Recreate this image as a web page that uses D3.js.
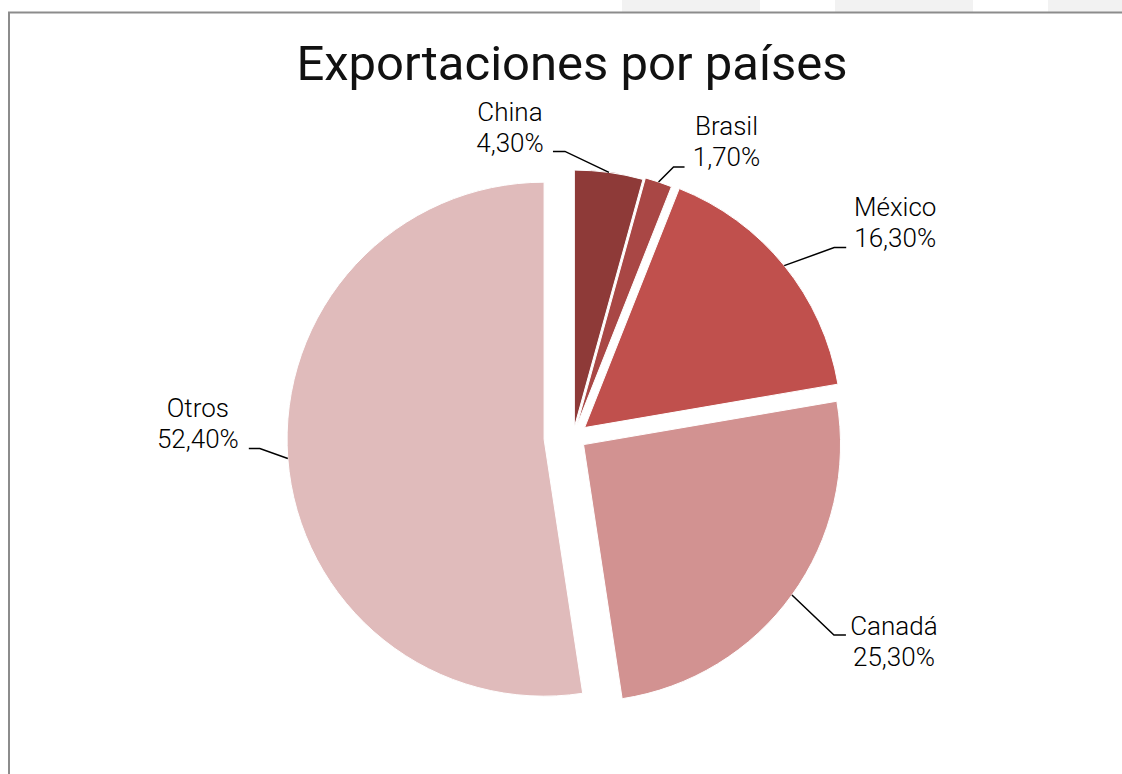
<!DOCTYPE html>
<html>
<head>
<meta charset="utf-8">
<script src="https://cdn.jsdelivr.net/npm/d3@7"></script>
<style>
  html, body { margin: 0; padding: 0; background: #fff; }
  svg { display: block; }
  text { font-family: Roboto, "Liberation Sans", sans-serif; fill: #111; }
  .title { font-weight: 400; }
  .slice-label { font-weight: 300; fill: #000; }
</style>
</head>
<body>
<svg id="chart" width="1122" height="774"></svg>
<script>
// Export share by destination country (percent)
const countries = ["China", "Brasil", "México", "Canadá", "Otros"];
const shares = [4.3, 1.7, 16.3, 25.3, 52.4];
const shareLabels = ["4,30%", "1,70%", "16,30%", "25,30%", "52,40%"];
const sliceColors = ["#8e3a38", "#a94745", "#c0504d", "#d29291", "#e0bbbb"];

// Per-slice explode distance (px)
const explode = [10, 12, 15, 13, 29];
// Label layout, relative to the leader start on the slice rim:
// elbow, end of the horizontal leg, and label centre / first baseline
const labelLayout = [
  { elbow: [-44, -21], end: [-56, -21], text: [-99, -51] },
  { elbow: [15, -15],  end: [26, -15],  text: [68, -47] },
  { elbow: [50, -18],  end: [62, -18],  text: [111, -50] },
  { elbow: [42, 40],   end: [54, 40],   text: [102, 40] },
  { elbow: [-28, -10], end: [-39, -10], text: [-90, -42] }
];

const svg = d3.select("#chart");
const W = 1122, H = 774;

// Tabs strip along the top edge
[[622, 138], [835, 138], [1048, 74]].forEach(([x, w]) => {
  svg.append("rect").attr("x", x).attr("y", 0).attr("width", w).attr("height", 12).attr("fill", "#f2f2f2");
});
// Sheet frame
svg.append("path")
  .attr("d", `M9,${H} L9,12.5 L${W},12.5`)
  .attr("fill", "none").attr("stroke", "#8c8c8c").attr("stroke-width", 2);

// Title
svg.append("text")
  .attr("class", "title")
  .attr("x", 572).attr("y", 80)
  .attr("text-anchor", "middle")
  .attr("font-size", 49)
  .text("Exportaciones por países");

const cx = 573, cy = 437, R = 257;
const data = countries.map((c, i) => ({ name: c, value: shares[i], label: shareLabels[i], i }));
const pie = d3.pie().sort(null).value(d => d.value).startAngle(0).endAngle(2 * Math.PI);
const arcs = pie(data);
const arc = d3.arc().innerRadius(0).outerRadius(R);

const g = svg.append("g").attr("transform", `translate(${cx},${cy})`);

arcs.forEach(a => {
  const mid = (a.startAngle + a.endAngle) / 2;
  const ux = Math.sin(mid), uy = -Math.cos(mid);
  const d = explode[a.data.i];
  const ox = ux * d, oy = uy * d;

  g.append("path")
    .attr("d", arc(a))
    .attr("transform", `translate(${ox},${oy})`)
    .attr("fill", sliceColors[a.data.i])
    .attr("stroke", "#fff")
    .attr("stroke-width", 1);

  // leader line from the rim mid-point
  const sx = ox + ux * R, sy = oy + uy * R;
  const L = labelLayout[a.data.i];
  g.append("polyline")
    .attr("points", [[sx, sy], [sx + L.elbow[0], sy + L.elbow[1]], [sx + L.end[0], sy + L.end[1]]].map(p => p.join(",")).join(" "))
    .attr("fill", "none").attr("stroke", "#000").attr("stroke-width", 1.5);

  const t = g.append("text")
    .attr("class", "slice-label")
    .attr("text-anchor", "middle")
    .attr("font-size", 26);
  t.append("tspan").attr("x", sx + L.text[0]).attr("y", sy + L.text[1]).text(a.data.name);
  t.append("tspan").attr("x", sx + L.text[0]).attr("y", sy + L.text[1] + 31).text(a.data.label);
});
</script>
</body>
</html>
